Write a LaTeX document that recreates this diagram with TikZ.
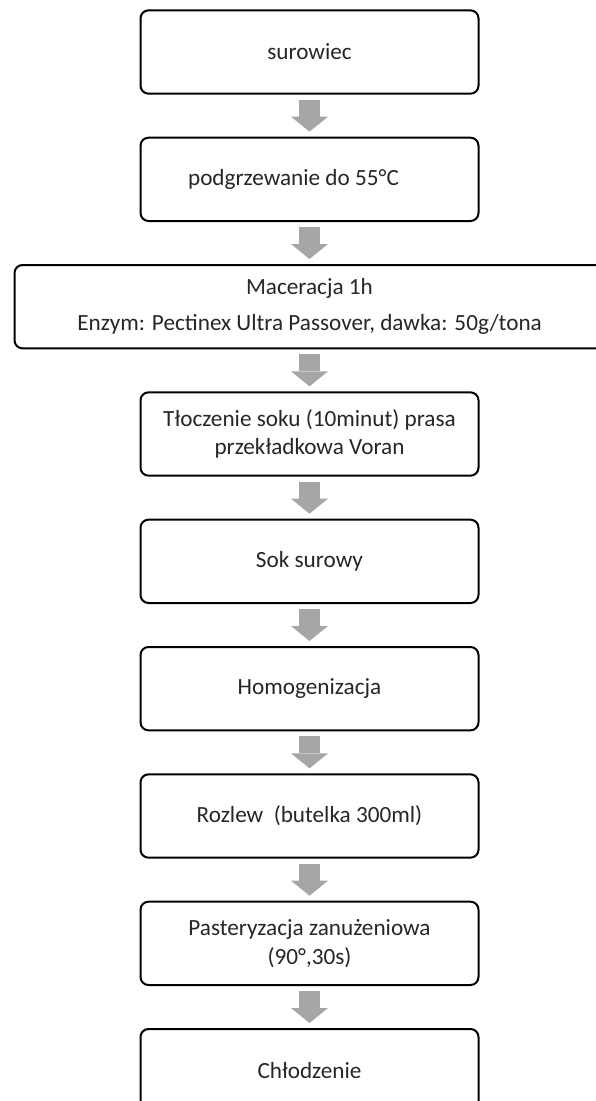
\documentclass[tikz,border=0pt]{standalone}
\usepackage{fontspec}
\setmainfont{Carlito}
\usepackage{xcolor}
\usetikzlibrary{arrows.meta,calc,positioning}
\definecolor{arrowgray}{HTML}{A6A6A6}
\definecolor{textgray}{HTML}{262626}
\tikzset{%
	stepbox/.style  = {draw, line width=1.5pt, rectangle, rounded corners=6pt, minimum width=253.5pt, minimum height=62.5pt, text centered, align=center, text=textgray, font=\fontsize{17.4}{21.5}\selectfont},
	widebox/.style  = {stepbox, minimum width=442.5pt},
	flow/.style     = {draw=arrowgray, line width=15.75pt, shorten <=3.75pt, shorten >=3.75pt, -{Triangle[width=27.75pt,length=11.25pt,line width=0pt,fill=arrowgray]}},
}
\begin{document}
\begin{tikzpicture}[x=0.75pt,y=-0.75pt, node distance=31.5pt]
	\clip (0,0) rectangle (596,1101);  % page frame
	
	\node[stepbox] (surowiec) at (309.5,52) {surowiec};
	\node[stepbox, below=of surowiec] (podgrzewanie) {podgrzewanie do 55°C\hspace*{24pt}};
	\node[widebox, below=of podgrzewanie] (maceracja) {Maceracja 1h\\[5.5pt]Enzym: Pectinex Ultra Passover, dawka: 50g/tona};
	\node[stepbox, below=of maceracja] (tloczenie) {Tłoczenie soku (10minut) prasa\\przekładkowa Voran};
	\node[stepbox, below=of tloczenie] (sok) {Sok surowy};
	\node[stepbox, below=of sok] (homogenizacja) {Homogenizacja};
	\node[stepbox, below=of homogenizacja] (rozlew) {Rozlew\ \ (butelka 300ml)};
	\node[stepbox, below=of rozlew] (pasteryzacja) {Pasteryzacja zanużeniowa\\(90°,30s)};
	\node[stepbox, below=of pasteryzacja] (chlodzenie) {Chłodzenie};
	
	% gray block arrows
	\draw[flow] (surowiec) -- (podgrzewanie);
	\draw[flow] (podgrzewanie) -- (maceracja);
	\draw[flow] (maceracja) -- (tloczenie);
	\draw[flow] (tloczenie) -- (sok);
	\draw[flow] (sok) -- (homogenizacja);
	\draw[flow] (homogenizacja) -- (rozlew);
	\draw[flow] (rozlew) -- (pasteryzacja);
	\draw[flow] (pasteryzacja) -- (chlodzenie);
	
\end{tikzpicture}
\end{document}
